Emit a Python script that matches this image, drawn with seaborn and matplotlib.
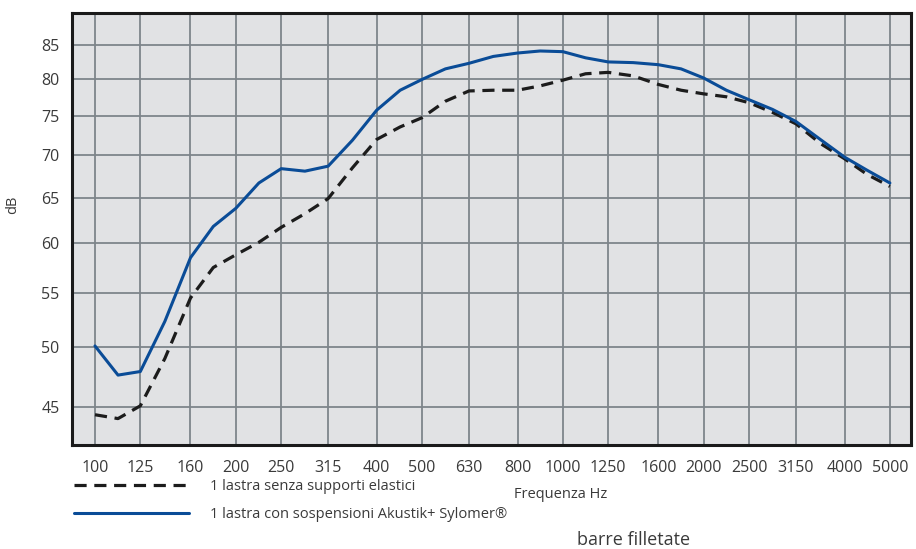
import pandas as pd
import numpy as np
import matplotlib.pyplot as plt
import matplotlib.ticker as mticker
import seaborn as sns

# nominal third-octave bands shown on the axis
bands = [100, 125, 160, 200, 250, 315, 400, 500, 630,
         800, 1000, 1250, 1600, 2000, 2500, 3150, 4000, 5000]
yticks = [45, 50, 55, 60, 65, 70, 75, 80, 85]

# curves at each band and halfway between bands (Hz)
freq_hz = [100, 112, 125, 141, 160, 179, 200, 224, 250, 281, 315, 355,
           400, 449, 500, 561, 630, 710, 800, 894, 1000, 1118, 1250, 1414,
           1600, 1789, 2000, 2236, 2500, 2806, 3150, 3550, 4000, 4472, 5000]
senza = [44.4, 44.1, 45.1, 49.0, 54.5, 57.5, 58.8, 60.1, 61.7, 63.2, 64.9, 68.5,
         72.0, 73.6, 74.8, 77.0, 78.4, 78.5, 78.5, 79.1, 79.9, 80.8, 81.0, 80.5,
         79.3, 78.5, 78.0, 77.6, 76.8, 75.5, 74.0, 71.5, 69.6, 67.7, 66.3]
sylomer = [50.1, 47.6, 47.9, 52.3, 58.5, 61.8, 63.8, 66.7, 68.4, 68.1, 68.7, 71.9,
           75.8, 78.5, 80.0, 81.5, 82.3, 83.3, 83.8, 84.1, 84.0, 83.1, 82.5, 82.4,
           82.1, 81.5, 80.2, 78.5, 77.2, 75.9, 74.3, 72.0, 69.8, 68.2, 66.7]

label_senza = '1 lastra senza supporti elastici'
label_syl = '1 lastra con sospensioni Akustik+ Sylomer®'

df = pd.DataFrame({'freq': freq_hz, 'senza': senza, 'sylomer': sylomer})

sns.set_style('white')
plt.rcParams['font.family'] = ['Open Sans', 'DejaVu Sans']
txt = '#3a3a3a'

fig = plt.figure(figsize=(9.16, 5.49), dpi=100)
ax = fig.add_axes([0.0786, 0.1894, 0.9159, 0.7869])
ax.set_facecolor('#e1e2e4')

sns.lineplot(data=df, x='freq', y='senza', ax=ax, color='#1c1c1c',
             linewidth=2.3, label=label_senza)
ax.lines[-1].set_dashes((3.8, 2.4))
sns.lineplot(data=df, x='freq', y='sylomer', ax=ax, color='#0a4c97',
             linewidth=2.2, label=label_syl)

ax.set_xscale('log')
ax.set_yscale('log')
ax.set_xlim(89.3, 5546)
ax.set_ylim(42.1, 89.9)
ax.xaxis.set_major_locator(mticker.FixedLocator(bands))
ax.xaxis.set_major_formatter(mticker.FixedFormatter([str(b) for b in bands]))
ax.xaxis.set_minor_locator(mticker.NullLocator())
ax.yaxis.set_major_locator(mticker.FixedLocator(yticks))
ax.yaxis.set_major_formatter(mticker.FixedFormatter([str(v) for v in yticks]))
ax.yaxis.set_minor_locator(mticker.NullLocator())

ax.grid(True, color='#7e858b', linewidth=1.3)
ax.set_axisbelow(True)
for s in ax.spines.values():
    s.set_visible(True)
    s.set_color('#1a1a1a')
    s.set_linewidth(2.2)

ax.tick_params(axis='both', length=0, labelsize=11.5, labelcolor=txt)
ax.tick_params(axis='y', pad=9)
ax.tick_params(axis='x', pad=11)

ax.set_xlabel('Frequenza Hz', fontsize=10.5, color=txt)
ax.xaxis.set_label_coords(0.583, -0.098)
ax.set_ylabel('dB', fontsize=10.5, color=txt)
ax.yaxis.set_label_coords(-0.062, 0.555)

handles, labels = ax.get_legend_handles_labels()
ax.get_legend().remove()
fig.legend(handles, labels, loc='upper left', bbox_to_anchor=(0.081, 0.128),
           frameon=False, fontsize=10.5, handlelength=7.9, handletextpad=1.4,
           labelspacing=0.91, borderpad=0, borderaxespad=0, labelcolor=txt)

fig.text(577 / 916, 1 - 540 / 549, 'barre filletate', fontsize=13, color=txt,
         va='center', ha='left')

plt.savefig('out.png', dpi=100)
